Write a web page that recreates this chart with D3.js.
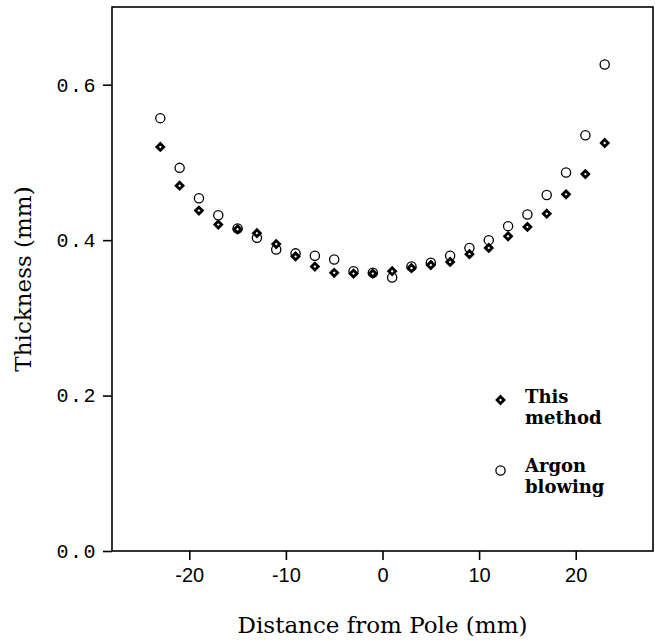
<!DOCTYPE html>
<html>
<head>
<meta charset="utf-8">
<script src="https://cdn.jsdelivr.net/npm/d3@7"></script>
<style>
  body { margin: 0; background: #fff; }
  svg { display: block; }
</style>
</head>
<body>
<svg id="chart" width="655" height="640"></svg>
<script>
// distance from pole (mm), measured every 2 mm
const distance = [-23, -21, -19, -17, -15, -13, -11, -9, -7, -5, -3, -1,
                  1, 3, 5, 7, 9, 11, 13, 15, 17, 19, 21, 23];
// thickness (mm) - this method (diamonds)
const thisMethod = [0.520, 0.470, 0.438, 0.420, 0.414, 0.409, 0.395, 0.379, 0.366, 0.358, 0.357, 0.357,
                    0.360, 0.364, 0.368, 0.372, 0.382, 0.390, 0.405, 0.417, 0.434, 0.459, 0.485, 0.525];
// thickness (mm) - argon blowing (circles)
const argonBlowing = [0.557, 0.493, 0.454, 0.432, 0.415, 0.403, 0.388, 0.383, 0.380, 0.375, 0.360, 0.358,
                      0.352, 0.366, 0.371, 0.380, 0.390, 0.400, 0.418, 0.433, 0.458, 0.487, 0.535, 0.626];
const xTicks = [-20, -10, 0, 10, 20];
const yTicks = [0.0, 0.2, 0.4, 0.6];

const svg = d3.select("#chart");
const margin = {top: 7, right: 2, bottom: 89, left: 112};
const width = 655 - margin.left - margin.right,
      height = 640 - margin.top - margin.bottom;

const serif = "'DejaVu Serif', serif";

const x = d3.scaleLinear().domain([-28, 28]).range([0, width]);
const y = d3.scaleLinear().domain([0, 0.7]).range([height, 0]);

const g = svg.append("g")
    .attr("transform", "translate(" + margin.left + "," + margin.top + ")");

// frame
g.append("rect")
    .attr("width", width)
    .attr("height", height)
    .attr("fill", "none")
    .attr("stroke", "#000")
    .attr("stroke-width", 1.6);

// x axis (plain hyphen for negatives, as in the original)
const xAxis = g.append("g")
    .attr("transform", "translate(0," + height + ")")
    .call(d3.axisBottom(x).tickValues(xTicks).tickSize(9).tickPadding(8).tickFormat(d => String(d)));
xAxis.select(".domain").remove();
xAxis.selectAll("line").attr("stroke-width", 1.6);
xAxis.selectAll("text")
    .attr("font-family", "'Liberation Sans', Arial, sans-serif")
    .attr("font-size", 20)
    .attr("fill", "#000");

// y axis
const yAxis = g.append("g")
    .call(d3.axisLeft(y).tickValues(yTicks).tickSize(9).tickPadding(6).tickFormat(d3.format(".1f")));
yAxis.select(".domain").remove();
yAxis.selectAll("line").attr("stroke-width", 1.6);
yAxis.selectAll("text")
    .attr("font-family", "'Liberation Mono', monospace")
    .attr("font-size", 20)
    .attr("letter-spacing", 1.5)
    .attr("fill", "#000");

// axis titles
svg.append("text")
    .attr("x", margin.left + width / 2)
    .attr("y", 633)
    .attr("text-anchor", "middle")
    .attr("font-family", serif)
    .attr("font-size", 23)
    .attr("font-weight", 500)
    .text("Distance from Pole (mm)");

svg.append("text")
    .attr("transform", "translate(31," + (margin.top + height / 2) + ") rotate(-90)")
    .attr("text-anchor", "middle")
    .attr("font-family", serif)
    .attr("font-size", 23)
    .text("Thickness (mm)");

// diamond marker path
const diamond = (cx, cy, r) =>
    "M" + cx + "," + (cy - r) + "L" + (cx + r) + "," + cy + "L" + cx + "," + (cy + r) + "L" + (cx - r) + "," + cy + "Z";

// argon blowing circles
g.selectAll("circle.argon")
    .data(distance)
    .join("circle")
    .attr("class", "argon")
    .attr("cx", d => x(d))
    .attr("cy", (d, i) => y(argonBlowing[i]))
    .attr("r", 4.6)
    .attr("fill", "none")
    .attr("stroke", "#000")
    .attr("stroke-width", 1.3);

// this method diamonds
g.selectAll("path.method")
    .data(distance)
    .join("path")
    .attr("class", "method")
    .attr("d", (d, i) => diamond(x(d), y(thisMethod[i]), 3.4))
    .attr("fill", "#fff")
    .attr("stroke", "#000")
    .attr("stroke-width", 2.8);

// legend
const legend = svg.append("g");
legend.append("path")
    .attr("d", diamond(500.5, 400, 3.4))
    .attr("fill", "#fff")
    .attr("stroke", "#000")
    .attr("stroke-width", 2.8);
legend.append("circle")
    .attr("cx", 500.5)
    .attr("cy", 470.5)
    .attr("r", 4.6)
    .attr("fill", "none")
    .attr("stroke", "#000")
    .attr("stroke-width", 1.3);

const legendLines = [["This", 403], ["method", 424], ["Argon", 472], ["blowing", 493]];
legend.selectAll("text")
    .data(legendLines)
    .join("text")
    .attr("x", 525)
    .attr("y", d => d[1])
    .attr("font-family", serif)
    .attr("font-size", 18)
    .attr("font-weight", "bold")
    .text(d => d[0]);
</script>
</body>
</html>
